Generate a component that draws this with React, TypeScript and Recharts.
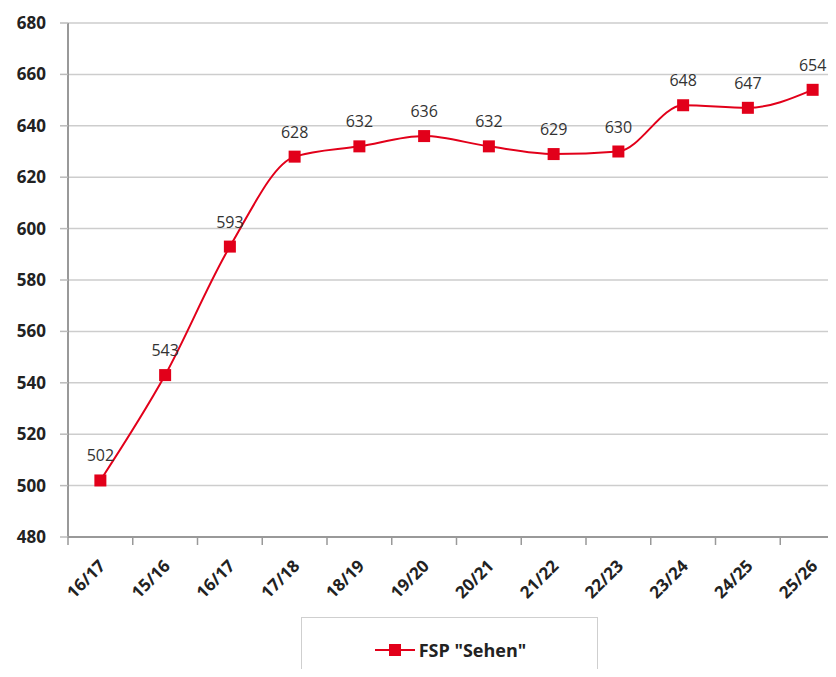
import React from 'react';
import { LineChart, Line, XAxis, YAxis, CartesianGrid, LabelList, Legend } from 'recharts';

const categories = ['16/17', '15/16', '16/17', '17/18', '18/19', '19/20', '20/21', '21/22', '22/23', '23/24', '24/25', '25/26'];
const values = [502, 543, 593, 628, 632, 636, 632, 629, 630, 648, 647, 654];
const yTicks = [480, 500, 520, 540, 560, 580, 600, 620, 640, 660, 680];

const RED = '#e2001a';
const FONT = '"Open Sans", "DejaVu Sans", sans-serif';

const chartData = categories.map((c, i) => ({ idx: i, name: c, value: values[i] }));

const SquareDot: React.FC<any> = ({ cx, cy, index }) => (
  <rect key={`dot-${index}`} x={cx - 6} y={cy - 6} width={12} height={12} fill={RED} />
);

const XTick: React.FC<any> = ({ x, y, payload }) => {
  const half = payload.offset ?? 0;
  return (
    <g>
      <line x1={x - half} y1={y - 8} x2={x - half} y2={y} stroke="#999" strokeWidth={1.5} />
      <text
        x={x + 6}
        y={y + 22}
        textAnchor="end"
        transform={`rotate(-45, ${x + 6}, ${y + 22})`}
        fontFamily={FONT}
        fontWeight={700}
        fontSize={17}
        fill="#222"
      >
        {categories[payload.value]}
      </text>
    </g>
  );
};

const LegendBox: React.FC<any> = () => (
  <div
    style={{
      width: 297,
      height: 80,
      border: '1.5px solid #cfcfcf',
      background: '#fff',
      display: 'flex',
      justifyContent: 'center',
      paddingTop: 20,
      boxSizing: 'border-box',
    }}
  >
    <svg width={44} height={24} style={{ marginRight: 2 }}>
      <line x1={2} y1={12} x2={42} y2={12} stroke={RED} strokeWidth={2} />
      <rect x={16} y={6} width={12} height={12} fill={RED} />
    </svg>
    <span style={{ fontFamily: FONT, fontWeight: 700, fontSize: 18, color: '#222', lineHeight: '24px' }}>
      FSP "Sehen"
    </span>
  </div>
);

export default function App() {
  return (
    <div style={{ margin: -8, width: 836, height: 677, overflow: 'hidden', background: '#fff' }}>
      <LineChart
        width={845}
        height={677}
        data={chartData}
        margin={{ top: 23, right: 0, left: 0, bottom: 60 }}
      >
        <CartesianGrid vertical={false} stroke="#cdcdcd" strokeWidth={1.5} />
        <XAxis
          dataKey="idx"
          type="category"
          scale="band"
          height={80}
          axisLine={{ stroke: '#999', strokeWidth: 2 }}
          tickLine={false}
          tick={<XTick />}
          interval={0}
        />
        <YAxis
          domain={[480, 680]}
          ticks={yTicks}
          width={68}
          tickSize={8}
          tickMargin={14}
          axisLine={{ stroke: '#999', strokeWidth: 2 }}
          tickLine={{ stroke: '#bbb', strokeWidth: 1.5 }}
          tick={{ fontFamily: FONT, fontWeight: 700, fontSize: 17, fill: '#222' }}
          allowDataOverflow
        />
        <Legend
          layout="vertical"
          verticalAlign="middle"
          align="center"
          content={<LegendBox />}
          wrapperStyle={{ left: 301, top: 617, width: 297, height: 80 }}
        />
        <Line
          type="monotone"
          dataKey="value"
          name='FSP "Sehen"'
          stroke={RED}
          strokeWidth={2}
          dot={<SquareDot />}
          activeDot={false}
          isAnimationActive={false}
        >
          <LabelList
            dataKey="value"
            position="top"
            offset={19}
            style={{ fontFamily: FONT, fontSize: 16, fill: '#333' }}
          />
        </Line>
      </LineChart>
    </div>
  );
}
